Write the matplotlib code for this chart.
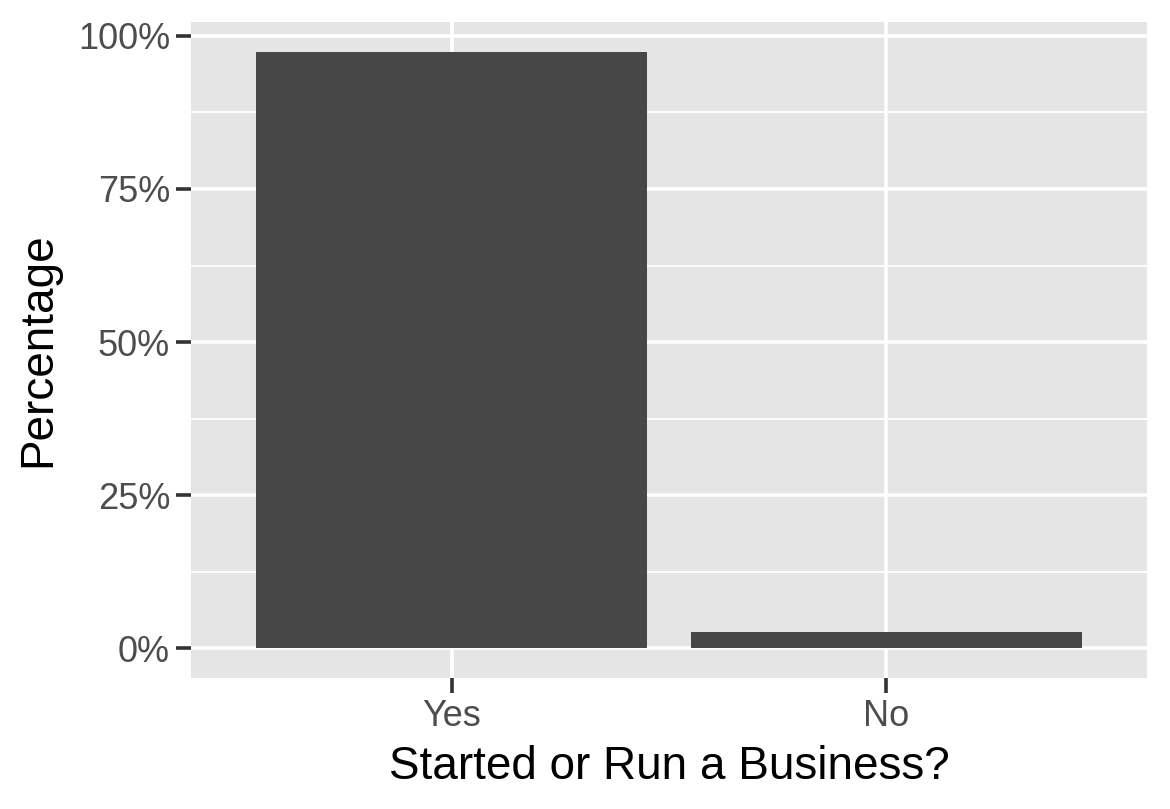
import matplotlib
matplotlib.use("Agg")
import matplotlib.pyplot as plt
from matplotlib.ticker import FuncFormatter, MultipleLocator

categories = ["Yes", "No"]
percentages = [97.4, 2.6]

plt.rcParams["font.family"] = ["Liberation Sans", "DejaVu Sans"]

fig = plt.figure(figsize=(11.7, 8.09), dpi=100)
ax = fig.add_axes([0.1632, 0.1619, 0.8171, 0.8109])
ax.set_facecolor("#E5E5E5")

x = list(range(1, len(categories) + 1))
ax.bar(x, percentages, width=0.9, color="#474747", zorder=3)

# ggplot-style limits with 5% expansion
top = max(percentages)
ax.set_xlim(0.4, len(categories) + 0.6)
ax.set_ylim(-0.05 * top, top * 1.05)

ax.set_xticks(x)
ax.set_xticklabels(categories)
ax.yaxis.set_major_locator(MultipleLocator(25))
ax.yaxis.set_minor_locator(MultipleLocator(12.5))
ax.yaxis.set_major_formatter(FuncFormatter(lambda v, _: f"{v:.0f}%"))

ax.grid(which="major", color="white", linewidth=2.6, zorder=1)
ax.grid(which="minor", axis="y", color="white", linewidth=1.3, zorder=1)
ax.tick_params(which="major", length=11, width=2.6, color="#333333",
               labelcolor="#4D4D4D", labelsize=26)
ax.tick_params(axis="y", pad=4)
ax.tick_params(axis="x", pad=4)
ax.tick_params(which="minor", length=0)
for s in ax.spines.values():
    s.set_visible(False)

ax.set_xlabel("Started or Run a Business?", fontsize=33, color="black", labelpad=8)
ax.set_ylabel("Percentage", fontsize=33, color="black", labelpad=13)

fig.savefig("out.png", dpi=100)
